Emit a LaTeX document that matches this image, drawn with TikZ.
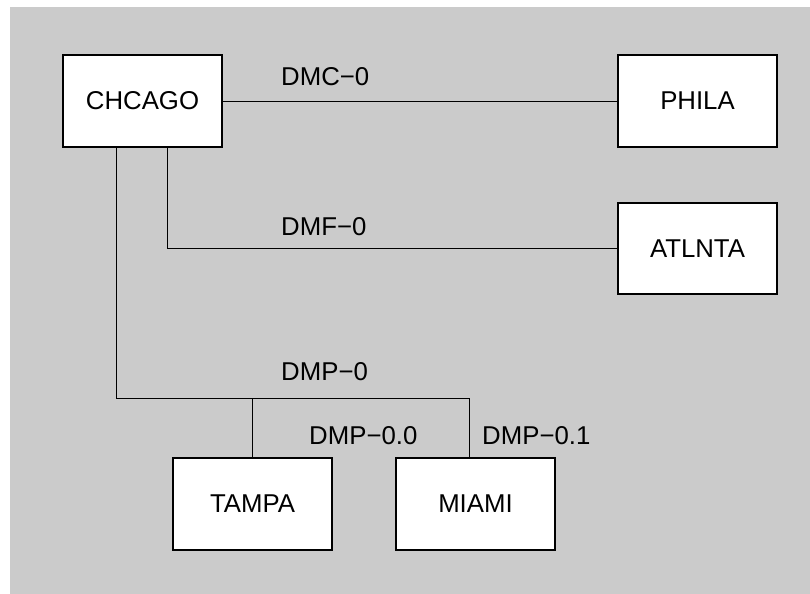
\documentclass[tikz,border=0pt]{standalone}
\usepackage{fontspec}
\setmainfont{Liberation Sans}
\usepackage{tikz}
\usetikzlibrary{positioning,calc}
\usepackage{xcolor}
\definecolor{screen}{RGB}{203,203,203}

\begin{document}
\begin{tikzpicture}[
  x=0.03cm, y=-0.03cm,
  site/.style={rectangle, draw=black, fill=white, line width=1.6pt,
               minimum width=4.75cm, minimum height=2.75cm, inner sep=0pt,
               font=\fontsize{22}{26}\selectfont},
  link/.style={black, line width=0.8pt},
  lbl/.style={font=\fontsize{22}{26}\selectfont, inner sep=0pt, anchor=west},
]
%─── Background screen ─────────────────────────────────────────────────────
\useasboundingbox (0,0) rectangle (810,594);
\fill[screen] (10,7) rectangle (810,594);
%─── Sites ─────────────────────────────────────────────────────────────────
\node[site] (chi) at (142.5,101)   {CHCAGO};
\node[site] (phl) at (697.5,101)   {PHILA};
\node[site] (atl) at (697.5,248.5) {ATLNTA};
\node[site] (tpa) at (252.5,504)   {TAMPA};
\node[site] (mia) at (475.5,504)   {MIAMI};
%─── Circuits from CHCAGO ──────────────────────────────────────────────────
\draw[link] (chi) -- (phl);
\draw[link] (chi.south -| 167,0) |- (atl.west);
\coordinate (busL) at (116,398);
\coordinate (busR) at (469,398);
\draw[link] (chi.south -| busL) -- (busL) -- (busR);
\draw[link] (tpa.north) -- (tpa.north |- busL);
\draw[link] (busR) -- (mia.north -| busR);
%─── Circuit labels ────────────────────────────────────────────────────────
\node[lbl] (lc)  at (281,77)  {DMC−0};
\node[lbl] (lf)  at (281,227) {DMF−0};
\node[lbl] (lp)  at (281,372) {DMP−0};
\node[lbl] (lp0) at (309,436) {DMP−0.0};
\node[lbl] (lp1) at (482,436) {DMP−0.1};
\end{tikzpicture}
\end{document}
